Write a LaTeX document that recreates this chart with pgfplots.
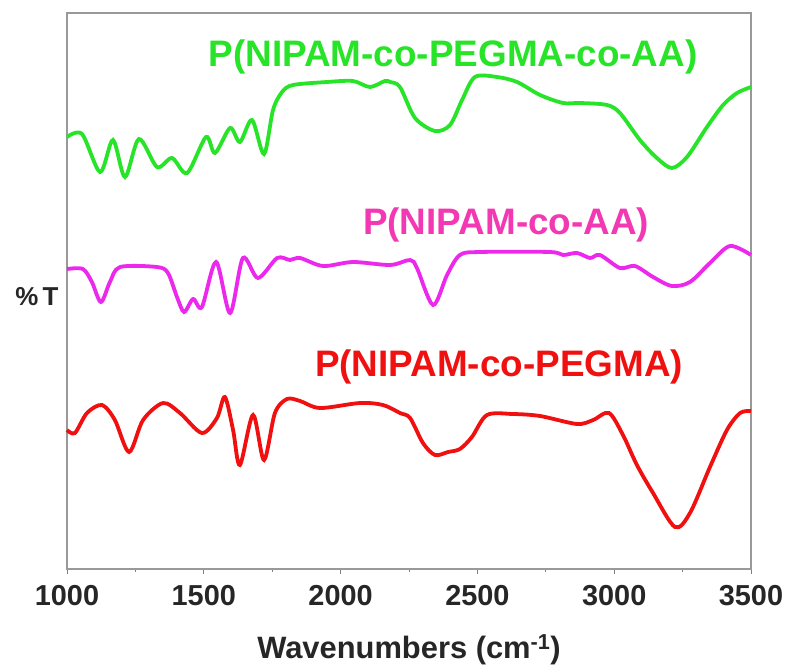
\documentclass[border=0pt]{standalone}
\usepackage{pgfplots}
\pgfplotsset{compat=1.18}
\usepackage{fontspec}
\setmainfont{Liberation Sans}
\definecolor{cgreen}{RGB}{40,228,40}
\definecolor{cmag}{RGB}{236,40,236}
\definecolor{cmagtxt}{RGB}{242,56,178}
\definecolor{cred}{RGB}{240,16,16}
\begin{document}
\begin{tikzpicture}
\useasboundingbox (-67bp,-99bp) rectangle (720bp,569bp);
\begin{axis}[
  at={(0,0)}, anchor=south west,
  scale only axis, width=684bp, height=556bp,
  xmin=1000, xmax=3500, ymin=13, ymax=569, y dir=reverse,
  xtick={1000,1500,2000,2500,3000,3500}, minor x tick num=1,
  xtick pos=bottom, ytick=\empty, tick align=outside,
  major tick length=5bp, minor tick length=3bp,
  tick style={gray, line width=1bp},
  axis line style={gray!80, line width=1.3bp},
  /pgf/number format/assume math mode=true,
  /pgf/number format/1000 sep={},
  xticklabel style={font=\bfseries\fontsize{29}{29}\selectfont, text=black!85, yshift=-8bp},
  xlabel={Wavenumbers (cm\textsuperscript{-1})},
  xlabel style={font=\bfseries\fontsize{31}{31}\selectfont, text=black!85, yshift=-22bp},
  clip=false,
]
% P(NIPAM-co-PEGMA-co-AA)
\addplot[cgreen, line width=3.8bp, smooth, tension=0.5] coordinates {
(1000,137) (1055,134) (1121,172) (1168,140) (1212,177) (1263,139)
(1329,167) (1384,158) (1439,173) (1508,137) (1541,153) (1596,128)
(1632,142) (1676,120) (1720,154) (1753,110) (1786,92) (1826,85)
(1950,82) (2045,81) (2107,87) (2162,81) (2181,82) (2217,87)
(2272,118) (2345,131) (2400,125) (2444,100) (2491,77) (2572,77)
(2645,82) (2729,95) (2813,103) (2875,103) (2974,105) (3021,113)
(3094,140) (3156,158) (3211,168) (3266,157) (3339,127) (3398,105)
(3449,93) (3500,87)
};
% P(NIPAM-co-AA)
\addplot[cmag, line width=3.8bp, smooth, tension=0.5] coordinates {
(1000,269) (1058,269) (1091,282) (1124,302) (1157,282) (1194,267)
(1329,267) (1369,273) (1402,297) (1428,312) (1461,299) (1493,307)
(1545,262) (1596,313) (1643,258) (1698,278) (1768,258) (1815,260)
(1852,258) (1936,266) (2045,262) (2181,265) (2254,260) (2279,268)
(2338,305) (2389,275) (2436,255) (2510,252) (2765,252) (2813,255)
(2864,253) (2912,258) (2948,255) (3021,268) (3076,266) (3142,277)
(3211,286) (3277,282) (3350,263) (3423,246) (3500,255)
};
% P(NIPAM-co-PEGMA)
\addplot[cred, line width=3.8bp, smooth, tension=0.5] coordinates {
(1000,430) (1029,433) (1073,413) (1128,405) (1175,420) (1227,452)
(1278,420) (1351,403) (1413,413) (1493,433) (1548,418) (1577,397)
(1607,430) (1632,465) (1680,415) (1720,460) (1760,413) (1804,399)
(1852,401) (1925,408) (2071,403) (2155,405) (2217,413) (2254,418)
(2301,443) (2345,455) (2393,452) (2436,449) (2480,437) (2535,415)
(2630,414) (2729,416) (2864,424) (2923,420) (2981,413) (3032,435)
(3083,465) (3142,493) (3222,527) (3277,513) (3350,467) (3412,430)
(3460,413) (3500,411)
};
\node[anchor=base, text=cgreen, font=\bfseries\fontsize{37}{37}\selectfont, inner sep=0pt] at (axis cs:2411,67) {P(NIPAM-co-PEGMA-co-AA)};
\node[anchor=base, text=cmagtxt, font=\bfseries\fontsize{37}{37}\selectfont, inner sep=0pt] at (axis cs:2605,234) {P(NIPAM-co-AA)};
\node[anchor=base, text=cred, font=\bfseries\fontsize{37}{37}\selectfont, inner sep=0pt] at (axis cs:2579,376) {P(NIPAM-co-PEGMA)};
\end{axis}
\node[anchor=base, font=\bfseries\fontsize{26}{26}\selectfont, text=black!85, inner sep=0pt] at (-30bp,263bp) {\%\,T};
\end{tikzpicture}
\end{document}
